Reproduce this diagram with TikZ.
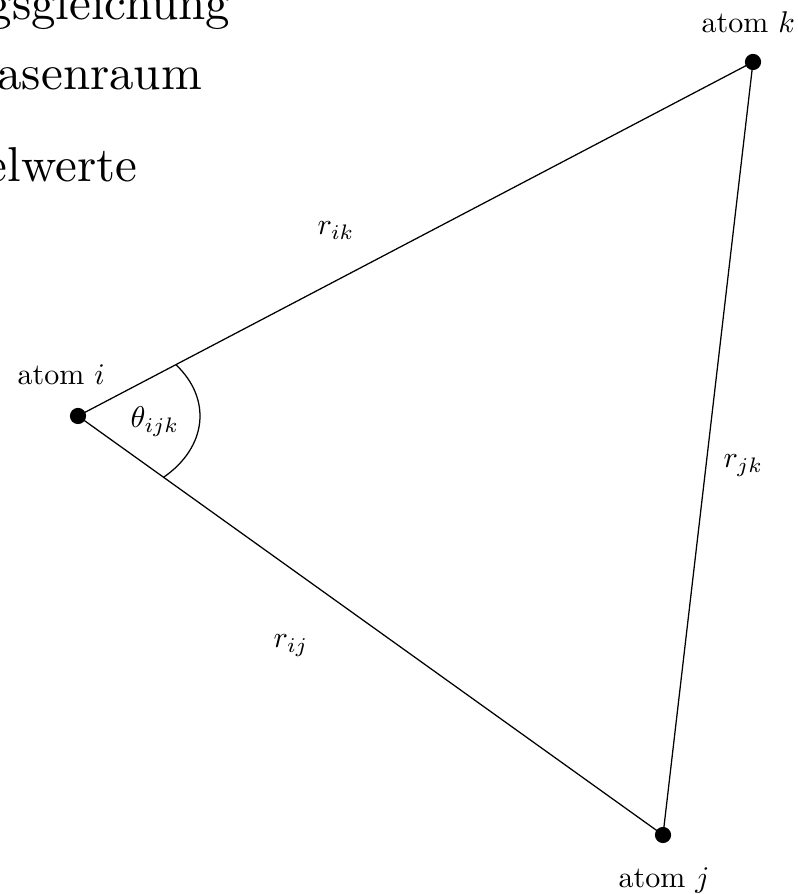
\documentclass[tikz,border=0pt]{standalone}
\begin{document}
\begin{tikzpicture}[x=0.33333pt,y=0.33333pt,
  atom/.style={circle,fill=black,inner sep=0pt,minimum size=5.4pt},
  lbl/.style={inner sep=0pt,font=\fontsize{10}{12}\selectfont},
  big/.style={inner sep=0pt,anchor=base east,scale=1.633,font=\fontsize{10}{12}\selectfont},
  bond/.style={line width=0.42pt}]
\useasboundingbox (0,0) rectangle (798,894);
% partially visible heading text
\node[big] (t1) at (231,874) {gsgleichung};
\node[big] (t2) at (203,804) {asenraum};
\node[big] (t3) at (138,712) {elwerte};
% atoms
\node[atom] (i) at (78,478) {};
\node[atom] (k) at (753,832) {};
\node[atom] (j) at (663,59) {};
% bonds
\draw[bond] (i.center) -- (k.center);
\draw[bond] (k.center) -- (j.center);
\draw[bond] (j.center) -- (i.center);
% angle arc
\draw[bond] ([shift={(36.6:122 and 86)}]i.center) arc[start angle=36.6, end angle=-45.5, x radius=40.67pt, y radius=28.67pt];
% labels
\node[lbl,anchor=base west] (li) at (17,509) {atom $i$};
\node[lbl,anchor=base west] (lk) at (701,861) {atom $k$};
\node[lbl,anchor=base west] (lj) at (618,6) {atom $j$};
\node[lbl,anchor=base west] (rik) at (317,659) {$r_{ik}$};
\node[lbl,anchor=base west] (rij) at (273,246) {$r_{ij}$};
\node[lbl,anchor=base west] (rjk) at (723,426) {$r_{jk}$};
\node[lbl,anchor=base west] (th) at (130,466) {$\theta_{ijk}$};
\end{tikzpicture}
\end{document}
